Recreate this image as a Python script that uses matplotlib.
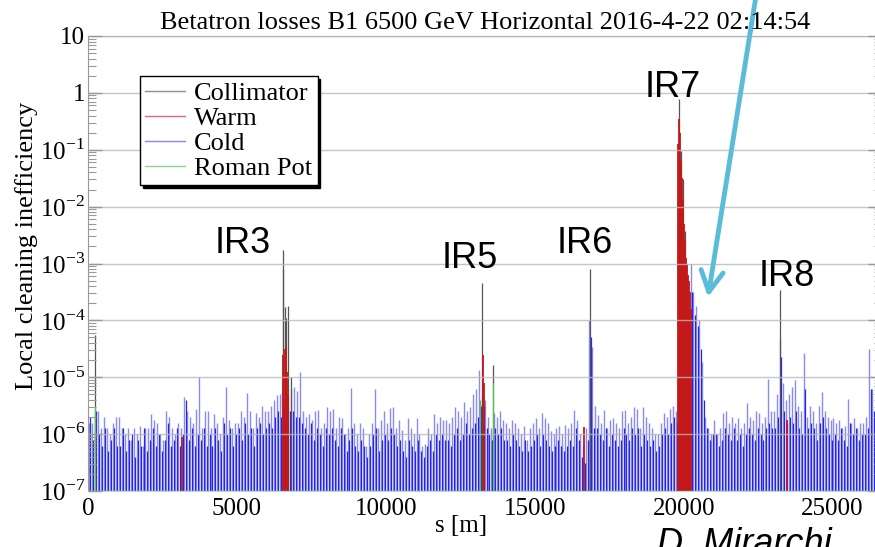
import numpy as np
import matplotlib
matplotlib.use('Agg')
import matplotlib.pyplot as plt
from matplotlib.lines import Line2D
from matplotlib.ticker import LogLocator, NullFormatter

plt.rcParams['font.family'] = ['Liberation Serif', 'DejaVu Serif']
plt.rcParams['mathtext.fontset'] = 'custom'
plt.rcParams['mathtext.rm'] = 'Liberation Serif'

title = 'Betatron losses B1 6500 GeV Horizontal 2016-4-22 02:14:54'

# cold losses: log10 of the tallest spike in each 100 m slot (light lines)
cold_light = [
    -5.8, -5.8, -5.6, -5.6, -5.9, -5.7, -5.9, -6.0, -5.8, -5.7,
    -5.7, -5.9, -6.0, -5.9, -6.1, -5.9, -6.0, -5.85, -6.2, -5.9,
    -5.9, -5.65, -5.75, -5.8, -6.0, -6.1, -5.6, -5.7, -5.9, -6.0,
    -5.8, -5.9, -5.35, -5.6, -5.7, -5.8, -5.55, -5.0, -5.9, -5.6,
    -5.6, -5.9, -5.65, -5.8, -6.0, -5.7, -5.17, -5.75, -5.9, -5.8,
    -5.8, -5.6, -5.7, -5.28, -5.6, -5.9, -5.63, -5.7, -5.5, -5.6,
    -5.6, -5.5, -5.4, -5.31, -5.3, -5.26, -5.4, -5.5, -5.2, -5.17,
    -5.25, -4.91, -5.6, -5.7, -5.65, -5.75, -5.6, -5.58, -5.9, -5.8,
    -5.53, -5.6, -5.56, -5.9, -5.7, -5.72, -6.0, -5.9, -5.19, -5.8,
    -6.0, -5.8, -5.9, -6.2, -6.0, -5.8, -5.21, -5.9, -5.75, -5.6,
    -5.8, -5.54, -5.53, -5.9, -5.75, -5.93, -6.1, -5.72, -5.9, -6.0,
    -5.72, -6.0, -6.2, -6.18, -5.9, -6.0, -5.65, -5.8, -5.7, -5.75,
    -5.75, -5.8, -5.7, -5.53, -5.6, -5.7, -5.44, -5.6, -5.53, -5.3,
    -5.2, -4.88, -5.3, -5.4, -5.7, -5.9, -5.63, -5.7, -5.6, -5.75,
    -5.8, -5.9, -5.75, -5.8, -5.9, -6.0, -5.85, -6.1, -5.9, -5.8,
    -5.72, -5.9, -5.63, -5.72, -5.8, -5.95, -6.0, -5.9, -5.85, -6.0,
    -5.84, -5.9, -5.8, -5.58, -5.75, -6.0, -6.2, -5.9, -4.0, -4.47,
    -5.5, -5.67, -5.8, -5.58, -5.9, -5.75, -5.72, -5.8, -5.9, -5.6,
    -5.58, -5.8, -5.7, -5.53, -5.55, -5.9, -5.53, -5.7, -5.8, -5.9,
    -6.0, -6.0, -5.8, -5.63, -5.7, -5.56, -5.5, -5.6, -5.0, -4.5,
    -4.2, -4.0, -3.0, -3.5, -3.75, -4.0, -4.74, -5.7, -5.9, -6.0,
    -5.75, -6.0, -5.9, -5.63, -5.6, -5.8, -5.7, -5.8, -5.72, -5.9,
    -5.8, -5.45, -5.7, -5.75, -5.6, -5.63, -5.8, -5.7, -5.03, -5.6,
    -5.6, -5.3, -4.35, -5.1, -5.4, -5.3, -5.17, -5.05, -5.5, -5.6,
    -4.58, -5.7, -5.5, -5.6, -5.8, -5.5, -5.26, -5.6, -5.7, -5.75,
    -5.72, -5.8, -5.75, -5.9, -5.85, -5.39, -5.8, -5.72, -5.9, -5.8,
    -5.8, -5.7, -4.5, -5.2, -5.6, -5.8, -5.7,
]

# cold losses: the dense, lower lines in each slot (dark lines)
cold_dark = [
    -5.7, -6.1, -5.6, -6.0, -6.2, -5.9, -6.3, -6.1, -5.9, -6.2,
    -6.2, -5.9, -6.3, -6.1, -6.0, -6.4, -6.1, -6.2, -5.9, -6.3,
    -6.1, -5.9, -6.2, -6.0, -6.3, -6.1, -5.8, -6.2, -6.1, -5.9,
    -6.2, -6.0, -5.4, -6.1, -5.9, -6.2, -6.0, -6.1, -5.9, -6.2,
    -6.0, -6.2, -5.9, -6.1, -6.3, -5.8, -6.0, -5.9, -6.2, -6.0,
    -5.9, -6.1, -5.8, -6.0, -5.9, -6.2, -5.9, -5.8, -6.0, -5.9,
    -5.8, -5.9, -5.7, -5.6, -5.7, -5.5, -5.6, -5.6, -5.6, -5.7,
    -5.7, -5.8, -5.9, -6.0, -5.8, -6.1, -5.9, -6.0, -6.2, -5.9,
    -6.0, -5.9, -6.1, -6.2, -5.9, -6.0, -6.3, -6.1, -5.9, -6.2,
    -6.3, -6.1, -6.2, -6.4, -6.2, -6.0, -5.9, -6.3, -6.1, -6.0,
    -6.1, -5.9, -6.0, -6.2, -6.1, -6.3, -6.4, -6.1, -6.2, -6.3,
    -6.1, -6.3, -6.4, -6.2, -6.1, -6.3, -6.0, -6.1, -6.0, -6.1,
    -6.1, -6.2, -6.0, -5.9, -6.1, -6.0, -5.8, -6.0, -5.9, -5.8,
    -5.7, -5.5, -5.5, -5.9, -6.0, -6.1, -5.9, -6.0, -5.9, -6.1,
    -6.1, -6.2, -6.0, -6.1, -6.2, -6.3, -6.1, -6.3, -6.2, -6.1,
    -6.0, -6.2, -6.0, -6.1, -6.2, -6.3, -6.2, -6.1, -6.2, -6.3,
    -6.2, -6.1, -6.2, -5.9, -6.1, -6.4, -6.5, -6.1, -4.3, -5.9,
    -5.9, -6.0, -6.1, -5.9, -6.2, -6.0, -6.1, -6.2, -6.1, -5.9,
    -6.0, -6.1, -5.9, -6.0, -5.9, -6.2, -6.0, -6.1, -6.2, -6.1,
    -6.3, -6.2, -6.0, -5.9, -6.0, -5.8, -5.7, -5.8, -5.5, -5.0,
    -4.6, -4.3, -3.5, -3.9, -4.1, -4.5, -5.4, -5.9, -6.1, -6.0,
    -6.0, -6.2, -6.1, -5.9, -6.0, -6.1, -5.9, -6.1, -6.0, -6.2,
    -6.0, -5.9, -6.0, -6.1, -5.9, -6.0, -6.1, -5.9, -5.8, -5.9,
    -5.9, -5.7, -4.65, -5.6, -5.8, -5.7, -5.8, -5.6, -5.9, -6.0,
    -5.2, -5.9, -5.8, -5.9, -6.1, -5.8, -5.7, -5.9, -6.0, -6.1,
    -6.0, -6.1, -5.9, -6.1, -6.2, -5.8, -6.0, -5.9, -6.1, -6.0,
    -6.0, -5.9, -5.2, -5.6, -5.9, -6.0, -5.9,
]

# warm elements (s in m, log10 of loss)
warm_s = [3150, 6560, 6600, 6640, 6680, 6720, 13260, 13290, 16650,
          19805, 19840, 19870, 19900, 19940, 19970, 20000, 20040, 20070,
          20100, 20140, 20170, 20200, 20240, 23470]
warm_h = [-6.05, -4.6, -4.5, -4.47, -4.9, -5.3, -4.61, -5.1, -5.88,
          -0.9, -0.46, -0.7, -1.2, -1.5, -1.89, -2.3, -2.6, -2.9,
          -3.0, -3.2, -3.3, -3.5, -3.8, -5.75]

# collimators
coll_s = [250, 6540, 6560, 6600, 6660, 6700, 6800, 13230, 13600, 16850,
          19840, 19880, 19910, 19990, 20060, 23230]
coll_h = [-4.26, -2.77, -3.09, -3.77, -3.95, -3.75, -5.0, -3.35, -4.79, -3.09,
          -0.11, -1.28, -1.02, -1.51, -2.42, -3.47]

# roman pots
rp_s = [250, 13170, 13600]
rp_h = [-5.5, -5.4, -5.1]

ir_names = ['IR3', 'IR5', 'IR6', 'IR7', 'IR8']

W, H = 875, 547
fig = plt.figure(figsize=(W / 100, H / 100), dpi=100)
ax = fig.add_axes([88 / W, 56 / H, 794 / W, 455 / H])
ax.set_yscale('log')
floor = 1e-7

s_light = np.arange(len(cold_light)) * 100 + 30
s_dark = np.arange(len(cold_dark)) * 100 + 80
ax.vlines(s_light, floor, 10.0 ** np.array(cold_light), colors='#8a8af0', lw=1.0)
ax.vlines(s_dark, floor, 10.0 ** np.array(cold_dark), colors='#2626e2', lw=0.9)
ax.vlines(coll_s, floor, 10.0 ** np.array(coll_h), colors='#555555', lw=0.9)
ax.vlines(warm_s, floor, 10.0 ** np.array(warm_h), colors='#c41818', lw=1.3)
ax.vlines(rp_s, floor, 10.0 ** np.array(rp_h), colors='#50c850', lw=0.9)

ax.set_xlim(0, 26659)
ax.set_ylim(1e-7, 10)

ax.set_yticks([10.0 ** k for k in range(-7, 2)])
ax.set_yticklabels(['$10^{%d}$' % k for k in range(-7, 0)] + ['1', '10'])
ax.yaxis.set_minor_locator(LogLocator(base=10, subs=np.arange(2, 10), numticks=20))
ax.yaxis.set_minor_formatter(NullFormatter())
ax.set_xticks([0, 5000, 10000, 15000, 20000, 25000])
ax.tick_params(axis='both', labelsize=18)
ax.tick_params(axis='y', which='major', direction='in', length=10, width=1,
               color='#999999', right=True, pad=2)
ax.tick_params(axis='y', which='minor', direction='in', length=6, width=0.8,
               color='#999999', right=True)
ax.tick_params(axis='x', length=0, pad=5)

ax.grid(axis='y', which='major', color='#b8b8b8', lw=1, alpha=0.8)
ax.set_axisbelow(False)

for side in ['left', 'top', 'right']:
    ax.spines[side].set_color('#999999')
ax.spines['bottom'].set_color('#a8e0d4')

ax.set_title(title, fontsize=19, pad=5)
ax.set_ylabel('Local cleaning inefficiency', fontsize=19)
ax.yaxis.set_label_coords(-0.063, 0.538)
ax.set_xlabel('s [m]', fontsize=18)
ax.xaxis.set_label_coords(0.47, -0.053)

handles = [Line2D([], [], color=c, lw=1) for c in ['#909090', '#e06878', '#8888e8', '#88d888']]
leg = ax.legend(handles, ['Collimator', 'Warm', 'Cold', 'Roman Pot'],
                loc='upper left', bbox_to_anchor=(140 / W, 1 - 76 / H),
                bbox_transform=fig.transFigure, fontsize=19, fancybox=False,
                shadow={'color': 'black', 'alpha': 1}, borderpad=0.2,
                labelspacing=0.06, handlelength=1.5, handletextpad=0.35,
                borderaxespad=0, framealpha=1)
leg.get_frame().set_edgecolor('black')
leg.get_frame().set_linewidth(1)

# IR labels (pixel positions of the baselines)
ir_px = [(243, 253), (470, 268), (585, 253), (673, 97), (787, 286)]
for name, (px, py) in zip(ir_names, ir_px):
    fig.text(px / W, 1 - py / H, name, ha='center', va='baseline',
             fontsize=26, family='Liberation Sans')

ax.annotate('', xy=(708 / W, 1 - 297 / H), xytext=(756 / W, 1 + 4 / H),
            xycoords='figure fraction', textcoords='figure fraction',
            arrowprops=dict(arrowstyle='->, head_length=0.75, head_width=0.4',
                            color='#5bbcd8', lw=3.5, mutation_scale=20,
                            shrinkA=0, shrinkB=0),
            annotation_clip=False)

fig.text(657 / W, 1 - 527 / H, 'D. Mirarchi', ha='left', va='top', fontsize=26,
         family='Liberation Sans', style='italic')

fig.savefig('out.png', dpi=100)
